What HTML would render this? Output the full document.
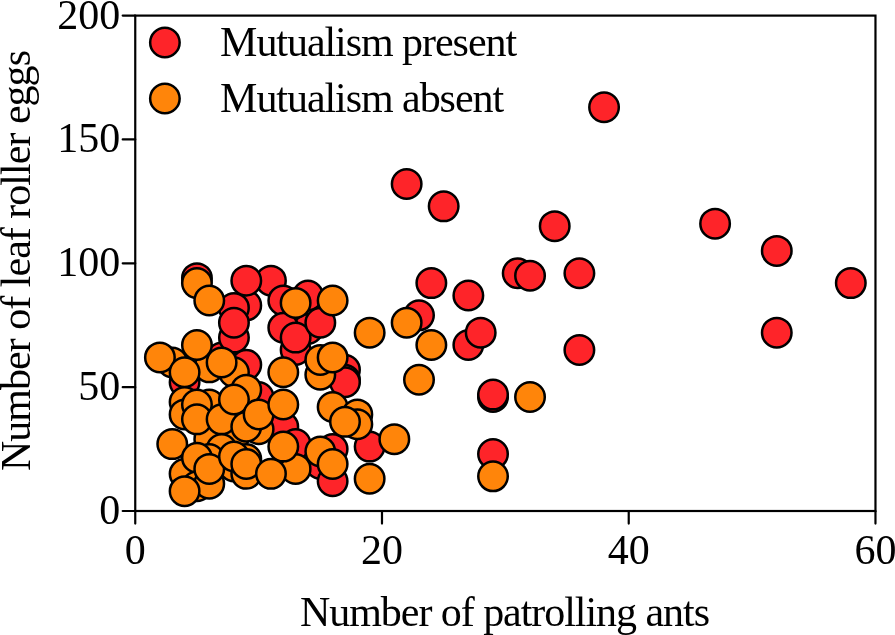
<!DOCTYPE html>
<html><head><meta charset="utf-8"><style>
html,body{margin:0;padding:0;background:#fff;width:895px;height:635px;overflow:hidden}
svg{display:block;will-change:transform}
text{font-family:"Liberation Serif",serif;font-size:42px;fill:#000}
</style></head><body>
<svg width="895" height="635" viewBox="0 0 895 635">
<rect x="0" y="0" width="895" height="635" fill="#fff"/>
<g stroke="#000" stroke-width="2.5">
<circle cx="604.06" cy="107.25" r="14.75" fill="#fe2429"/>
<circle cx="406.66" cy="184.04" r="14.75" fill="#fe2429"/>
<circle cx="443.68" cy="206.33" r="14.75" fill="#fe2429"/>
<circle cx="554.71" cy="226.15" r="14.75" fill="#fe2429"/>
<circle cx="715.09" cy="223.67" r="14.75" fill="#fe2429"/>
<circle cx="776.77" cy="250.92" r="14.75" fill="#fe2429"/>
<circle cx="850.80" cy="283.12" r="14.75" fill="#fe2429"/>
<circle cx="517.70" cy="273.21" r="14.75" fill="#fe2429"/>
<circle cx="530.03" cy="275.69" r="14.75" fill="#fe2429"/>
<circle cx="579.38" cy="273.21" r="14.75" fill="#fe2429"/>
<circle cx="431.34" cy="283.12" r="14.75" fill="#fe2429"/>
<circle cx="468.35" cy="295.50" r="14.75" fill="#fe2429"/>
<circle cx="419.00" cy="315.32" r="14.75" fill="#fe2429"/>
<circle cx="468.35" cy="345.04" r="14.75" fill="#fe2429"/>
<circle cx="480.69" cy="332.66" r="14.75" fill="#fe2429"/>
<circle cx="579.38" cy="350.00" r="14.75" fill="#fe2429"/>
<circle cx="776.77" cy="332.66" r="14.75" fill="#fe2429"/>
<circle cx="493.02" cy="397.06" r="14.75" fill="#fe2429"/>
<circle cx="493.02" cy="394.58" r="14.75" fill="#fe2429"/>
<circle cx="493.02" cy="454.03" r="14.75" fill="#fe2429"/>
<circle cx="196.94" cy="278.16" r="14.75" fill="#fe2429"/>
<circle cx="270.96" cy="280.64" r="14.75" fill="#fe2429"/>
<circle cx="246.28" cy="305.41" r="14.75" fill="#fe2429"/>
<circle cx="233.95" cy="307.89" r="14.75" fill="#fe2429"/>
<circle cx="246.28" cy="280.64" r="14.75" fill="#fe2429"/>
<circle cx="221.61" cy="357.43" r="14.75" fill="#fe2429"/>
<circle cx="233.95" cy="337.61" r="14.75" fill="#fe2429"/>
<circle cx="233.95" cy="322.75" r="14.75" fill="#fe2429"/>
<circle cx="283.29" cy="300.46" r="14.75" fill="#fe2429"/>
<circle cx="307.97" cy="328.94" r="14.75" fill="#fe2429"/>
<circle cx="295.63" cy="350.00" r="14.75" fill="#fe2429"/>
<circle cx="283.29" cy="327.70" r="14.75" fill="#fe2429"/>
<circle cx="295.63" cy="337.61" r="14.75" fill="#fe2429"/>
<circle cx="307.97" cy="295.50" r="14.75" fill="#fe2429"/>
<circle cx="320.31" cy="322.75" r="14.75" fill="#fe2429"/>
<circle cx="184.60" cy="382.20" r="14.75" fill="#fe2429"/>
<circle cx="246.28" cy="364.86" r="14.75" fill="#fe2429"/>
<circle cx="258.62" cy="397.06" r="14.75" fill="#fe2429"/>
<circle cx="344.98" cy="369.81" r="14.75" fill="#fe2429"/>
<circle cx="344.98" cy="379.72" r="14.75" fill="#fe2429"/>
<circle cx="344.98" cy="382.20" r="14.75" fill="#fe2429"/>
<circle cx="283.29" cy="426.78" r="14.75" fill="#fe2429"/>
<circle cx="295.63" cy="444.12" r="14.75" fill="#fe2429"/>
<circle cx="332.64" cy="449.07" r="14.75" fill="#fe2429"/>
<circle cx="320.31" cy="463.94" r="14.75" fill="#fe2429"/>
<circle cx="332.64" cy="481.28" r="14.75" fill="#fe2429"/>
<circle cx="369.65" cy="446.60" r="14.75" fill="#fe2429"/>
<circle cx="233.95" cy="466.41" r="14.75" fill="#ff850a"/>
<circle cx="233.95" cy="436.69" r="14.75" fill="#ff850a"/>
<circle cx="209.27" cy="439.17" r="14.75" fill="#ff850a"/>
<circle cx="406.66" cy="322.75" r="14.75" fill="#ff850a"/>
<circle cx="431.34" cy="345.04" r="14.75" fill="#ff850a"/>
<circle cx="419.00" cy="379.72" r="14.75" fill="#ff850a"/>
<circle cx="530.03" cy="397.06" r="14.75" fill="#ff850a"/>
<circle cx="493.02" cy="476.32" r="14.75" fill="#ff850a"/>
<circle cx="196.94" cy="283.12" r="14.75" fill="#ff850a"/>
<circle cx="209.27" cy="300.46" r="14.75" fill="#ff850a"/>
<circle cx="295.63" cy="302.93" r="14.75" fill="#ff850a"/>
<circle cx="332.64" cy="300.46" r="14.75" fill="#ff850a"/>
<circle cx="209.27" cy="367.33" r="14.75" fill="#ff850a"/>
<circle cx="196.94" cy="345.04" r="14.75" fill="#ff850a"/>
<circle cx="172.26" cy="362.38" r="14.75" fill="#ff850a"/>
<circle cx="159.92" cy="357.43" r="14.75" fill="#ff850a"/>
<circle cx="233.95" cy="372.29" r="14.75" fill="#ff850a"/>
<circle cx="184.60" cy="372.29" r="14.75" fill="#ff850a"/>
<circle cx="221.61" cy="362.38" r="14.75" fill="#ff850a"/>
<circle cx="184.60" cy="402.01" r="14.75" fill="#ff850a"/>
<circle cx="209.27" cy="404.49" r="14.75" fill="#ff850a"/>
<circle cx="184.60" cy="414.40" r="14.75" fill="#ff850a"/>
<circle cx="196.94" cy="404.49" r="14.75" fill="#ff850a"/>
<circle cx="196.94" cy="419.35" r="14.75" fill="#ff850a"/>
<circle cx="221.61" cy="419.35" r="14.75" fill="#ff850a"/>
<circle cx="221.61" cy="449.07" r="14.75" fill="#ff850a"/>
<circle cx="172.26" cy="444.12" r="14.75" fill="#ff850a"/>
<circle cx="184.60" cy="473.85" r="14.75" fill="#ff850a"/>
<circle cx="209.27" cy="458.98" r="14.75" fill="#ff850a"/>
<circle cx="196.94" cy="457.74" r="14.75" fill="#ff850a"/>
<circle cx="196.94" cy="486.23" r="14.75" fill="#ff850a"/>
<circle cx="209.27" cy="483.75" r="14.75" fill="#ff850a"/>
<circle cx="184.60" cy="491.18" r="14.75" fill="#ff850a"/>
<circle cx="209.27" cy="468.89" r="14.75" fill="#ff850a"/>
<circle cx="246.28" cy="389.63" r="14.75" fill="#ff850a"/>
<circle cx="233.95" cy="399.54" r="14.75" fill="#ff850a"/>
<circle cx="258.62" cy="429.26" r="14.75" fill="#ff850a"/>
<circle cx="246.28" cy="426.78" r="14.75" fill="#ff850a"/>
<circle cx="258.62" cy="414.40" r="14.75" fill="#ff850a"/>
<circle cx="283.29" cy="372.29" r="14.75" fill="#ff850a"/>
<circle cx="283.29" cy="404.49" r="14.75" fill="#ff850a"/>
<circle cx="246.28" cy="458.98" r="14.75" fill="#ff850a"/>
<circle cx="233.95" cy="456.51" r="14.75" fill="#ff850a"/>
<circle cx="246.28" cy="473.85" r="14.75" fill="#ff850a"/>
<circle cx="246.28" cy="463.94" r="14.75" fill="#ff850a"/>
<circle cx="295.63" cy="468.89" r="14.75" fill="#ff850a"/>
<circle cx="283.29" cy="446.60" r="14.75" fill="#ff850a"/>
<circle cx="270.96" cy="473.85" r="14.75" fill="#ff850a"/>
<circle cx="320.31" cy="374.76" r="14.75" fill="#ff850a"/>
<circle cx="320.31" cy="359.90" r="14.75" fill="#ff850a"/>
<circle cx="332.64" cy="357.43" r="14.75" fill="#ff850a"/>
<circle cx="332.64" cy="406.97" r="14.75" fill="#ff850a"/>
<circle cx="357.32" cy="414.40" r="14.75" fill="#ff850a"/>
<circle cx="357.32" cy="424.31" r="14.75" fill="#ff850a"/>
<circle cx="344.98" cy="421.83" r="14.75" fill="#ff850a"/>
<circle cx="320.31" cy="451.55" r="14.75" fill="#ff850a"/>
<circle cx="332.64" cy="463.94" r="14.75" fill="#ff850a"/>
<circle cx="369.65" cy="332.66" r="14.75" fill="#ff850a"/>
<circle cx="394.33" cy="439.17" r="14.75" fill="#ff850a"/>
<circle cx="369.65" cy="478.80" r="14.75" fill="#ff850a"/>
</g>
<g stroke="#000" stroke-width="2.2" stroke-linecap="round" fill="none">
<rect x="135.25" y="15.6" width="740.22" height="495.40" stroke-linecap="butt" stroke-linejoin="miter"/>
<line x1="122.7" y1="511.00" x2="135.25" y2="511.00"/>
<line x1="122.7" y1="387.15" x2="135.25" y2="387.15"/>
<line x1="122.7" y1="263.30" x2="135.25" y2="263.30"/>
<line x1="122.7" y1="139.45" x2="135.25" y2="139.45"/>
<line x1="122.7" y1="15.60" x2="135.25" y2="15.60"/>
<line x1="135.25" y1="511.0" x2="135.25" y2="523.6"/>
<line x1="381.99" y1="511.0" x2="381.99" y2="523.6"/>
<line x1="628.73" y1="511.0" x2="628.73" y2="523.6"/>
<line x1="875.47" y1="511.0" x2="875.47" y2="523.6"/>
</g>
<g stroke="#000" stroke-width="2.5">
<circle cx="164.9" cy="42.5" r="14.75" fill="#fe2429"/>
<circle cx="164.9" cy="98.5" r="14.75" fill="#ff850a"/>
</g>
<text x="120.3" y="524.00" text-anchor="end">0</text>
<text x="120.3" y="400.15" text-anchor="end">50</text>
<text x="120.3" y="276.30" text-anchor="end">100</text>
<text x="120.3" y="152.45" text-anchor="end">150</text>
<text x="120.3" y="28.60" text-anchor="end">200</text>
<text x="135.25" y="563.7" text-anchor="middle">0</text>
<text x="381.99" y="563.7" text-anchor="middle">20</text>
<text x="628.73" y="563.7" text-anchor="middle">40</text>
<text x="875.47" y="563.7" text-anchor="middle">60</text>
<text x="220.1" y="55.9" textLength="297" lengthAdjust="spacing">Mutualism present</text>
<text x="220.1" y="112.1" textLength="284" lengthAdjust="spacing">Mutualism absent</text>
<text x="300" y="625.7" textLength="410" lengthAdjust="spacing">Number of patrolling ants</text>
<text transform="translate(29.8,471) rotate(-90)" x="0" y="0" textLength="421" lengthAdjust="spacing">Number of leaf roller eggs</text>
</svg>
</body></html>
